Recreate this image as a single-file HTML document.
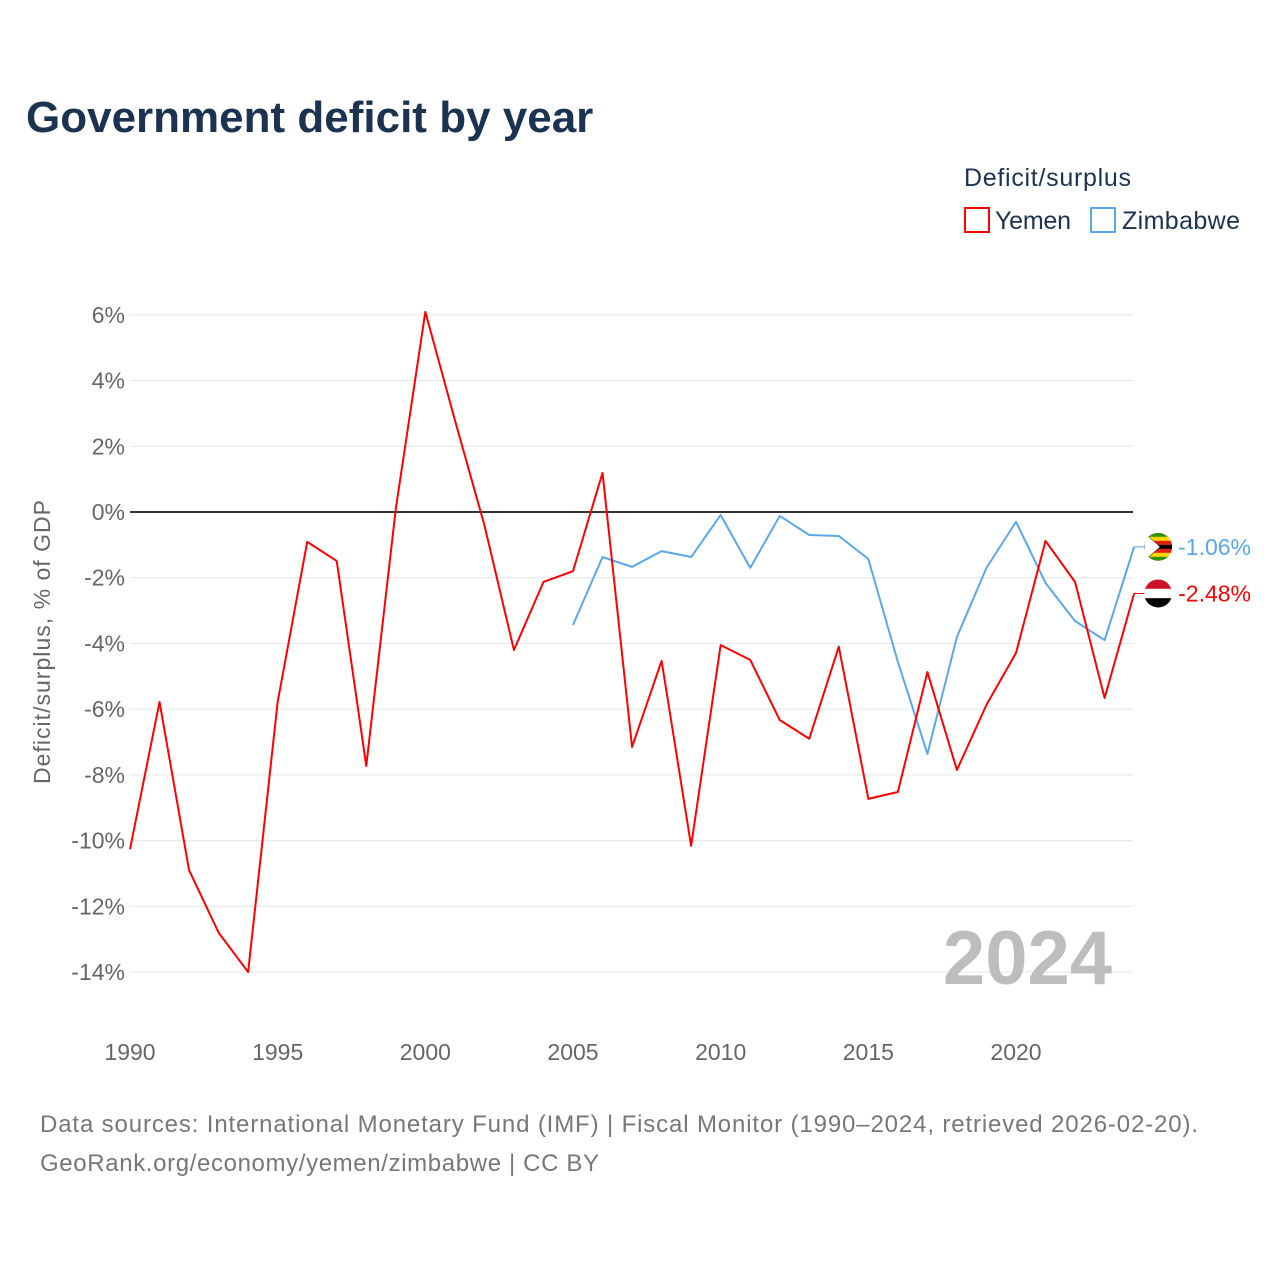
<!DOCTYPE html>
<html><head><meta charset="utf-8"><style>
body{margin:0;background:#fff;}
svg{display:block;font-family:"Liberation Sans",sans-serif;}
</style></head><body>
<svg id="chart" width="1280" height="1280" viewBox="0 0 1280 1280">
<text x="26" y="132" font-size="44" font-weight="bold" fill="#1b3350">Government deficit by year</text>
<text x="964" y="186" font-size="25" fill="#1b3350" textLength="167">Deficit/surplus</text>
<g><rect x="965" y="208" width="24" height="24" fill="none" stroke="#f00" stroke-width="2"/><text x="995" y="229" font-size="25" fill="#1b3350" textLength="76">Yemen</text></g>
<g><rect x="1091" y="208" width="24" height="24" fill="none" stroke="#5aa8ec" stroke-width="2"/><text x="1122" y="229" font-size="25" fill="#1b3350" textLength="118">Zimbabwe</text></g>
<g id="grid"></g>
<text transform="translate(50,642) rotate(-90)" text-anchor="middle" font-size="23" fill="#666" textLength="284">Deficit/surplus, % of GDP</text>
<text x="1112" y="984" text-anchor="end" font-size="76" font-weight="bold" fill="#bdbdbd">2024</text>
<g id="series"></g>
<text x="40" y="1132" font-size="24" fill="#777" textLength="1158">Data sources: International Monetary Fund (IMF) | Fiscal Monitor (1990–2024, retrieved 2026-02-20).</text>
<text x="40" y="1171" font-size="24" fill="#777" textLength="559">GeoRank.org/economy/yemen/zimbabwe | CC BY</text>
</svg>
<script>
const yTicks=[6,4,2,0,-2,-4,-6,-8,-10,-12,-14];
const xTicks=[1990,1995,2000,2005,2010,2015,2020];
const yemenYears=[1990,1991,1992,1993,1994,1995,1996,1997,1998,1999,2000,2001,2002,2003,2004,2005,2006,2007,2008,2009,2010,2011,2012,2013,2014,2015,2016,2017,2018,2019,2020,2021,2022,2023,2024];
const yemenValues=[-10.26,-5.78,-10.9,-12.8,-14.0,-5.78,-0.91,-1.49,-7.73,0.1,6.09,2.8,-0.4,-4.2,-2.13,-1.8,1.19,-7.15,-4.53,-10.16,-4.05,-4.5,-6.33,-6.9,-4.1,-8.73,-8.52,-4.87,-7.85,-5.87,-4.29,-0.88,-2.13,-5.66,-2.48];
const zimYears=[2005,2006,2007,2008,2009,2010,2011,2012,2013,2014,2015,2016,2017,2018,2019,2020,2021,2022,2023,2024];
const zimValues=[-3.44,-1.37,-1.67,-1.19,-1.37,-0.09,-1.7,-0.12,-0.7,-0.73,-1.43,-4.56,-7.36,-3.8,-1.7,-0.3,-2.16,-3.32,-3.9,-1.06];
const NS="http://www.w3.org/2000/svg";
const X=y=>130+(y-1990)*(1016-130)/30;
const Y=v=>512-v*32.86;
function mk(tag,attrs,parent){const e=document.createElementNS(NS,tag);for(const k in attrs)e.setAttribute(k,attrs[k]);parent.appendChild(e);return e;}
const grid=document.getElementById('grid');
yTicks.forEach(t=>{
  const l=mk('line',{x1:130,x2:1133,y1:Y(t),y2:Y(t),stroke:t===0?'#333':'#e6e6e6','stroke-width':t===0?2:1},grid);
  
  
  const tx=mk('text',{x:125,y:Y(t)+8,'text-anchor':'end','font-size':23,fill:'#666'},grid);
  tx.textContent=t+'%';
  
  
});
xTicks.forEach(t=>{
  const tx=mk('text',{x:X(t),y:1060,'text-anchor':'middle','font-size':23,fill:'#666'},grid);
  tx.textContent=t;
  
  
});
const s=document.getElementById('series');
function line(years,vals,color,name){
  const p=mk('polyline',{points:years.map((y,i)=>X(y)+','+Y(vals[i])).join(' '),fill:'none',stroke:color,'stroke-width':2,'stroke-linejoin':'round'},s);
  
  
  const lx=X(years[years.length-1]), ly=Y(vals[vals.length-1]);
  const c=mk('line',{x1:lx,x2:lx+12,y1:ly,y2:ly,stroke:color,'stroke-width':1},s);
  
  
  return [lx,ly];
}
const [zx,zy]=line(zimYears,zimValues,'#5aa8ec','zimbabwe-line');
const [yx,yy]=line(yemenYears,yemenValues,'#f00','yemen-line');
const fz=mk('g',{},s);


const cpz=mk('clipPath',{id:'cz'},fz);
mk('circle',{cx:zx+24,cy:zy,r:14},cpz);
const zc=['#319208','#ffd200','#de2010','#000','#de2010','#ffd200','#319208'];
zc.forEach((c,i)=>mk('rect',{x:zx+10,y:zy-14+i*4,width:28,height:4.1,fill:c,'clip-path':'url(#cz)'},fz));
mk('polygon',{points:`${zx+10},${zy-14} ${zx+26},${zy} ${zx+10},${zy+14}`,fill:'#fff',stroke:'#000','stroke-width':0.5,'clip-path':'url(#cz)'},fz);
const fy=mk('g',{},s);


const cpy=mk('clipPath',{id:'cy'},fy);
mk('circle',{cx:yx+24,cy:yy,r:14},cpy);
['#ce1126','#fff','#000'].forEach((c,i)=>mk('rect',{x:yx+10,y:yy-14+i*9.34,width:28,height:9.4,fill:c,'clip-path':'url(#cy)'},fy));
const tz=mk('text',{x:zx+44,y:zy+8,'font-size':23,fill:'#5aa8ec'},s);
tz.textContent=zimValues[zimValues.length-1].toFixed(2)+'%';


const ty=mk('text',{x:yx+44,y:yy+8,'font-size':23,fill:'#f00'},s);
ty.textContent=yemenValues[yemenValues.length-1].toFixed(2)+'%';


</script>
</body></html>
